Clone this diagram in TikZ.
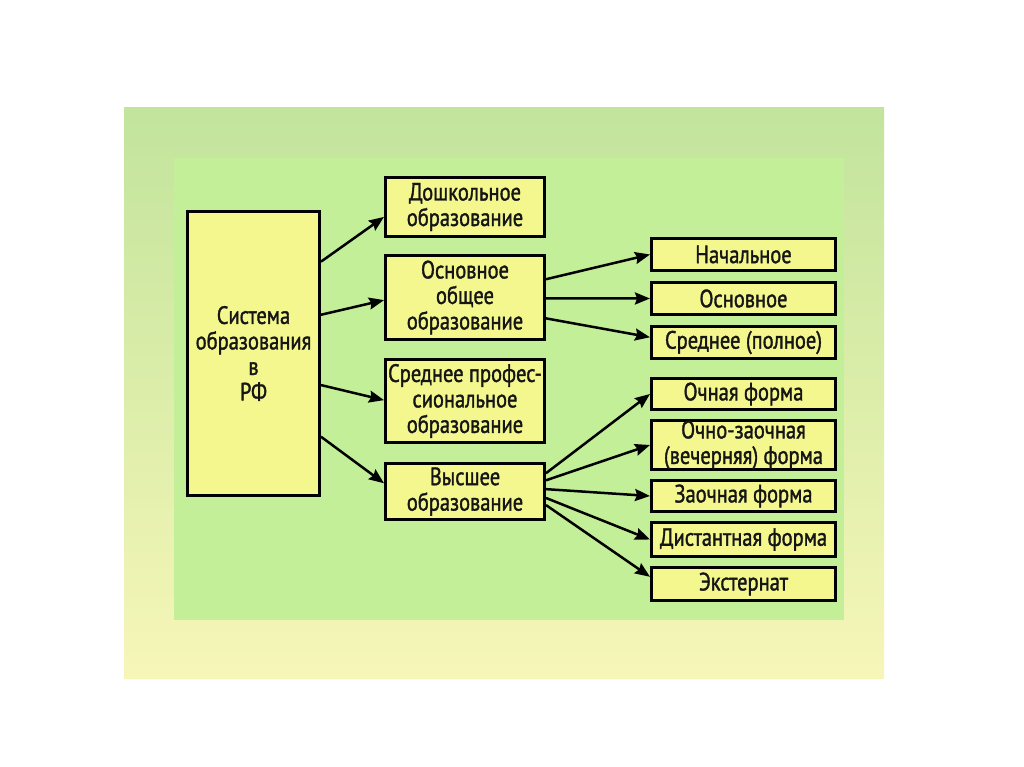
\documentclass[tikz,border=0pt]{standalone}
\usepackage{fontspec}
\setmainfont{PT Sans}[FakeStretch=0.82,FakeBold=1.4]
\usetikzlibrary{arrows.meta,calc}
\definecolor{boxfill}{HTML}{F4F78E}
\definecolor{innerbg}{HTML}{C3EF98}
\definecolor{outertop}{HTML}{C2E49C}
\definecolor{outerbot}{HTML}{F6F6B8}
\definecolor{textc}{HTML}{151515}
\tikzset{
  box/.style={draw=black, line width=3pt, fill=boxfill, rectangle, align=center,
    inner sep=0pt, font=\fontsize{25}{25.5}\selectfont, text=textc},
  arr/.style={line width=2.5pt, -{Stealth[length=15pt,width=12pt,inset=2pt]}},
}
\begin{document}
\begin{tikzpicture}[x=1pt,y=-1pt]
\useasboundingbox (0,0) rectangle (1024,767);
\fill[white] (0,0) rectangle (1024,767);
\shade[top color=outertop, bottom color=outerbot] (124,108) rectangle (884,678);
\fill[innerbg] (174,158) rectangle (844,620);

\node[box, minimum width=132pt, minimum height=284pt] (main) at (253.5,353.5) {Система\\образования\\в\\РФ};

\node[box, minimum width=159pt, minimum height=59pt] (d1) at (465,207) {Дошкольное\\образование};
\node[box, minimum width=159pt, minimum height=84pt] (d2) at (465,297.5) {Основное\\общее\\образование};
\node[box, minimum width=159pt, minimum height=83pt] (d3) at (465,401) {Среднее профес-\\сиональное\\образование};
\node[box, minimum width=159pt, minimum height=56pt] (d4) at (465,491.5) {Высшее\\образование};

\node[box, minimum width=184pt, minimum height=32pt] (r1) at (743.5,254.5) {Начальное};
\node[box, minimum width=184pt, minimum height=32pt] (r2) at (743.5,298.5) {Основное};
\node[box, minimum width=184pt, minimum height=32pt] (r3) at (743.5,342.5) {Среднее (полное)};
\node[box, minimum width=184pt, minimum height=31pt] (r4) at (743.5,394) {Очная форма};
\node[box, minimum width=184pt, minimum height=49pt] (r5) at (743.5,445) {Очно-заочная\\(вечерняя) форма};
\node[box, minimum width=184pt, minimum height=31pt] (r6) at (743.5,496) {Заочная форма};
\node[box, minimum width=184pt, minimum height=34pt] (r7) at (743.5,539.5) {Дистантная форма};
\node[box, minimum width=184pt, minimum height=33pt] (r8) at (743.5,584) {Экстернат};

\draw[arr] ($(main.north east)!0.18!(main.south east)$) -- ($(d1.north west)!0.66!(d1.south west)$);
\draw[arr] ($(main.north east)!0.365!(main.south east)$) -- ($(d2.north west)!0.53!(d2.south west)$);
\draw[arr] ($(main.north east)!0.61!(main.south east)$) -- ($(d3.north west)!0.49!(d3.south west)$);
\draw[arr] ($(main.north east)!0.79!(main.south east)$) -- ($(d4.north west)!0.36!(d4.south west)$);

\draw[arr] ($(d2.north east)!0.29!(d2.south east)$) -- (r1.west);
\draw[arr] ($(d2.north east)!0.51!(d2.south east)$) -- (r2.west);
\draw[arr] ($(d2.north east)!0.74!(d2.south east)$) -- ($(r3.north west)!0.35!(r3.south west)$);

\draw[arr] ($(d4.north east)!0.19!(d4.south east)$) -- (r4.west);
\draw[arr] ($(d4.north east)!0.31!(d4.south east)$) -- (r5.west);
\draw[arr] ($(d4.north east)!0.46!(d4.south east)$) -- (r6.west);
\draw[arr] ($(d4.north east)!0.61!(d4.south east)$) -- (r7.west);
\draw[arr] ($(d4.north east)!0.73!(d4.south east)$) -- ($(r8.north west)!0.3!(r8.south west)$);
\end{tikzpicture}
\end{document}
